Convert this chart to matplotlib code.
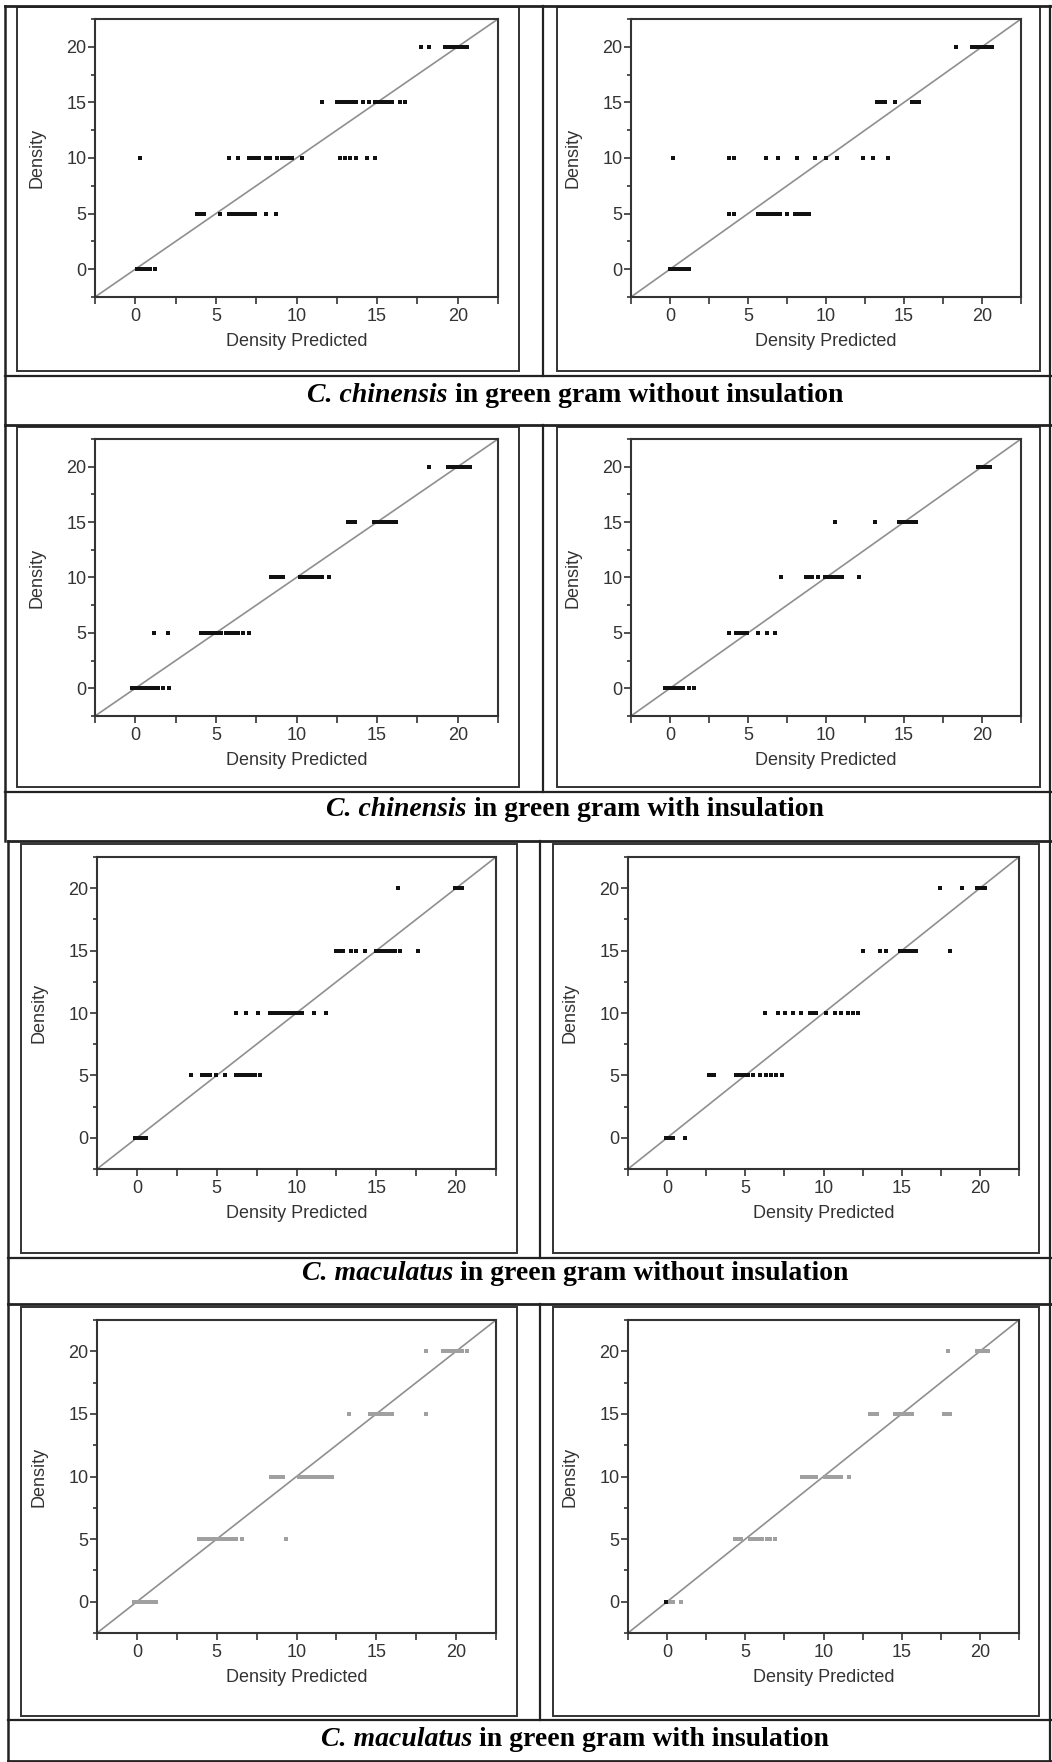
import matplotlib
matplotlib.use("Agg")
import matplotlib.pyplot as plt
from matplotlib.lines import Line2D
from matplotlib.patches import Rectangle

W, H = 1052, 1762

levels = [0, 5, 10, 15, 20]

chin_no_left = {
    20: [17.7, 18.2, 19.2, 19.4, 19.6, 19.8, 20.0, 20.2, 20.4, 20.6],
    15: [11.6, 12.5, 12.7, 12.9, 13.1, 13.3, 13.5, 13.7, 14.1, 14.5, 14.9, 15.1, 15.3, 15.5, 15.7, 15.9, 16.4, 16.7],
    10: [0.3, 5.8, 6.35, 7.05, 7.25, 7.45, 7.7, 8.1, 8.35, 8.8, 9.1, 9.3, 9.5, 9.7, 10.35, 12.7, 13.0, 13.3, 13.7, 14.35, 14.9],
    5: [3.8, 4.0, 4.25, 5.25, 5.8, 6.0, 6.2, 6.4, 6.6, 6.8, 7.0, 7.2, 7.4, 8.1, 8.75],
    0: [0.1, 0.3, 0.5, 0.7, 0.9, 1.25],
}
chin_no_right = {
    20: [18.35, 19.35, 19.55, 19.8, 20.0, 20.2, 20.45, 20.65],
    15: [13.3, 13.5, 13.75, 14.45, 15.5, 15.7, 15.95],
    10: [0.17, 3.8, 4.1, 6.13, 6.95, 8.13, 9.3, 10.0, 10.7, 12.37, 13.0, 14.0],
    5: [3.8, 4.1, 5.65, 5.9, 6.1, 6.3, 6.55, 6.8, 7.03, 7.5, 8.0, 8.2, 8.45, 8.7, 8.9],
    0: [0.0, 0.2, 0.4, 0.6, 0.8, 1.0, 1.2],
}
chin_ins_left = {
    20: [18.25, 19.4, 19.6, 19.8, 20.0, 20.2, 20.4, 20.55, 20.75],
    15: [13.2, 13.4, 13.6, 14.8, 15.0, 15.2, 15.4, 15.6, 15.8, 16.0, 16.2],
    10: [8.4, 8.6, 8.8, 9.0, 9.15, 10.2, 10.4, 10.6, 10.8, 11.0, 11.2, 11.4, 11.6, 12.0],
    5: [1.16, 2.0, 4.1, 4.3, 4.5, 4.7, 4.9, 5.1, 5.3, 5.6, 5.8, 6.0, 6.2, 6.4, 6.7, 7.05],
    0: [-0.2, 0.0, 0.2, 0.4, 0.6, 0.8, 1.0, 1.2, 1.4, 1.7, 2.1],
}
chin_ins_right = {
    20: [19.75, 19.95, 20.15, 20.3, 20.5],
    15: [10.6, 13.16, 14.7, 14.9, 15.1, 15.3, 15.5, 15.65, 15.8],
    10: [7.14, 8.7, 8.9, 9.1, 9.46, 9.96, 10.2, 10.4, 10.6, 10.8, 11.0, 12.1],
    5: [3.8, 4.24, 4.45, 4.65, 4.95, 5.65, 6.2, 6.73],
    0: [-0.3, -0.1, 0.1, 0.3, 0.55, 0.85, 1.2, 1.55],
}
mac_no_left = {
    20: [16.33, 19.9, 20.05, 20.2, 20.35],
    15: [12.5, 12.7, 12.9, 13.4, 13.7, 14.27, 15.0, 15.2, 15.4, 15.6, 15.8, 16.0, 16.2, 16.5, 17.6],
    10: [6.2, 6.84, 7.58, 8.32, 8.5, 8.7, 8.9, 9.1, 9.3, 9.5, 9.7, 9.9, 10.1, 10.34, 11.08, 11.83],
    5: [3.38, 4.08, 4.3, 4.6, 4.93, 5.5, 6.2, 6.4, 6.6, 6.8, 7.0, 7.2, 7.4, 7.73],
    0: [-0.1, 0.1, 0.3, 0.6],
}
mac_no_right = {
    20: [17.44, 18.87, 19.79, 19.95, 20.1, 20.3],
    15: [12.53, 13.6, 13.98, 14.88, 15.1, 15.3, 15.5, 15.7, 15.94, 18.08],
    10: [6.28, 7.09, 7.51, 8.05, 8.58, 9.11, 9.3, 9.54, 10.18, 10.72, 11.1, 11.57, 11.9, 12.2],
    5: [2.71, 2.9, 3.03, 4.42, 4.6, 4.8, 5.0, 5.2, 5.49, 5.96, 6.34, 6.66, 6.98, 7.34],
    0: [-0.06, 0.1, 0.25, 0.4, 1.17],
}
mac_ins_left = {
    20: [18.09, 19.2, 19.4, 19.6, 19.8, 20.0, 20.2, 20.4, 20.7],
    15: [13.3, 14.63, 14.85, 15.05, 15.25, 15.45, 15.65, 15.8, 16.0, 18.13],
    10: [8.43, 8.6, 8.8, 9.0, 9.17, 10.13, 10.35, 10.55, 10.75, 10.95, 11.15, 11.35, 11.55, 11.75, 12.0, 12.25],
    5: [3.86, 4.05, 4.25, 4.45, 4.65, 4.85, 5.05, 5.25, 5.45, 5.65, 5.85, 6.05, 6.2, 6.58, 9.32],
    0: [-0.17, 0.05, 0.25, 0.45, 0.65, 0.85, 1.05, 1.21],
}
mac_ins_right = {
    20: [17.97, 19.79, 20.0, 20.2, 20.35, 20.53],
    15: [13.0, 13.2, 13.4, 14.56, 14.8, 15.0, 15.2, 15.45, 15.69, 17.7, 17.9, 18.08],
    10: [8.64, 8.85, 9.05, 9.25, 9.54, 10.07, 10.3, 10.5, 10.7, 10.9, 11.1, 11.6],
    5: [4.31, 4.5, 4.74, 5.31, 5.5, 5.7, 5.9, 6.06, 6.38, 6.6, 6.92],
    0: [0.04, 0.2, 0.4, 0.9],
}
# single dark point in the last panel
mac_ins_right_dark_x = [-0.06]
mac_ins_right_dark_y = [0]

captions = [
    ("C. chinensis", " in green gram without insulation"),
    ("C. chinensis", " in green gram with insulation"),
    ("C. maculatus", " in green gram without insulation"),
    ("C. maculatus", " in green gram with insulation"),
]

major_ticks = [0, 5, 10, 15, 20]
minor_ticks = [-2.5, 2.5, 7.5, 12.5, 17.5, 22.5]
lim = (-2.5, 22.5)

# layout in pixels: panel row top, box top/bottom, caption line, caption y, row bottom
rows = [
    dict(top=6, box=(7, 371), cap_line=376, cap_y=395, bottom=425, axy=(19, 297),
         left=5, divider=543, boxl=(17, 519), boxr=(557, 1040), axl=(95, 498), axr=(631, 1021)),
    dict(top=425, box=(427, 787), cap_line=792, cap_y=810, bottom=841, axy=(439, 716),
         left=5, divider=543, boxl=(17, 519), boxr=(557, 1040), axl=(95, 498), axr=(631, 1021)),
    dict(top=841, box=(844, 1253), cap_line=1258, cap_y=1274, bottom=1304, axy=(857, 1169),
         left=8, divider=540, boxl=(21, 517), boxr=(553, 1039), axl=(97, 496), axr=(628, 1019)),
    dict(top=1304, box=(1307, 1716), cap_line=1720, cap_y=1739, bottom=1762, axy=(1320, 1633),
         left=8, divider=540, boxl=(21, 517), boxr=(553, 1039), axl=(97, 496), axr=(628, 1019)),
]
panels = [
    (chin_no_left, chin_no_right),
    (chin_ins_left, chin_ins_right),
    (mac_no_left, mac_no_right),
    (mac_ins_left, mac_ins_right),
]
dot_colors = ["#111111", "#111111", "#111111", "#a0a0a0"]

plt.rcParams['font.family'] = ['Liberation Sans', 'DejaVu Sans']

fig = plt.figure(figsize=(W / 100, H / 100), dpi=100)


def fx(x):
    return x / W


def fy(y):
    return 1 - y / H


def hline(x0, x1, y, lw=1.6, color="#222222"):
    fig.add_artist(Line2D([fx(x0), fx(x1)], [fy(y), fy(y)], transform=fig.transFigure, color=color, lw=lw))


def vline(x, y0, y1, lw=1.6, color="#222222"):
    fig.add_artist(Line2D([fx(x), fx(x)], [fy(y0), fy(y1)], transform=fig.transFigure, color=color, lw=lw))


def box(x0, x1, y0, y1):
    fig.add_artist(Rectangle((fx(x0), fy(y1)), fx(x1) - fx(x0), fy(y0) - fy(y1),
                             transform=fig.transFigure, fill=False, ec="#333333", lw=1.4))


def draw_panel(data, xr, yr, color):
    ax = fig.add_axes([fx(xr[0]), fy(yr[1]), fx(xr[1]) - fx(xr[0]), fy(yr[0]) - fy(yr[1])])
    ax.plot(lim, lim, color="#8f8f8f", lw=1.2, zorder=1)
    for lev in levels:
        xs = data[lev]
        ax.scatter(xs, [lev] * len(xs), marker="s", s=5, c=color, linewidths=0, zorder=2)
    ax.set_xlim(lim)
    ax.set_ylim(lim)
    ax.set_xticks(major_ticks)
    ax.set_xticks(minor_ticks, minor=True)
    ax.set_yticks(major_ticks)
    ax.set_yticks(minor_ticks, minor=True)
    ax.tick_params(axis="x", which="both", direction="out", length=5, width=1.2, color="#333333",
                   labelsize=13, labelcolor="#333333", pad=3)
    ax.tick_params(axis="y", which="major", direction="out", length=5, width=1.2, color="#333333",
                   labelsize=13, labelcolor="#333333", pad=1)
    ax.tick_params(axis="y", which="minor", direction="out", length=3, width=1.2, color="#333333")
    for sp in ax.spines.values():
        sp.set_linewidth(1.5)
        sp.set_color("#333333")
    ax.set_xlabel("Density Predicted", fontsize=13, color="#333333", labelpad=6)
    ax.set_ylabel("Density", fontsize=13, color="#333333", labelpad=15)
    return ax


renderer = fig.canvas.get_renderer()

for i, r in enumerate(rows):
    left_data, right_data = panels[i]
    axl = draw_panel(left_data, r["axl"], r["axy"], dot_colors[i])
    axr = draw_panel(right_data, r["axr"], r["axy"], dot_colors[i])
    if i == 3:
        axr.scatter(mac_ins_right_dark_x, mac_ins_right_dark_y, marker="s", s=6, c="#111111",
                    linewidths=0, zorder=3)

    # table lines
    hline(r["left"], 1052, r["top"], lw=2.0)
    hline(r["left"], 1052, r["cap_line"], lw=1.6)
    vline(r["left"], r["top"], r["bottom"], lw=1.8)
    vline(r["divider"], r["top"], r["cap_line"], lw=1.6)
    vline(1050, r["top"], r["bottom"], lw=1.6)
    box(r["boxl"][0], r["boxl"][1], r["box"][0], r["box"][1])
    box(r["boxr"][0], r["boxr"][1], r["box"][0], r["box"][1])

    # caption: italic species name followed by bold text
    sp_name, rest = captions[i]
    t1 = fig.text(0, fy(r["cap_y"]), sp_name, family="Liberation Serif", fontsize=20,
                  weight="bold", style="italic", va="center", ha="left")
    t2 = fig.text(0, fy(r["cap_y"]), rest, family="Liberation Serif", fontsize=20,
                  weight="bold", va="center", ha="left")
    w1 = t1.get_window_extent(renderer).width
    w2 = t2.get_window_extent(renderer).width
    x0 = 575 - (w1 + w2) / 2
    t1.set_x(fx(x0))
    t2.set_x(fx(x0 + w1))

hline(8, 1052, 1761, lw=2.0)

fig.savefig("out.png", dpi=100)
